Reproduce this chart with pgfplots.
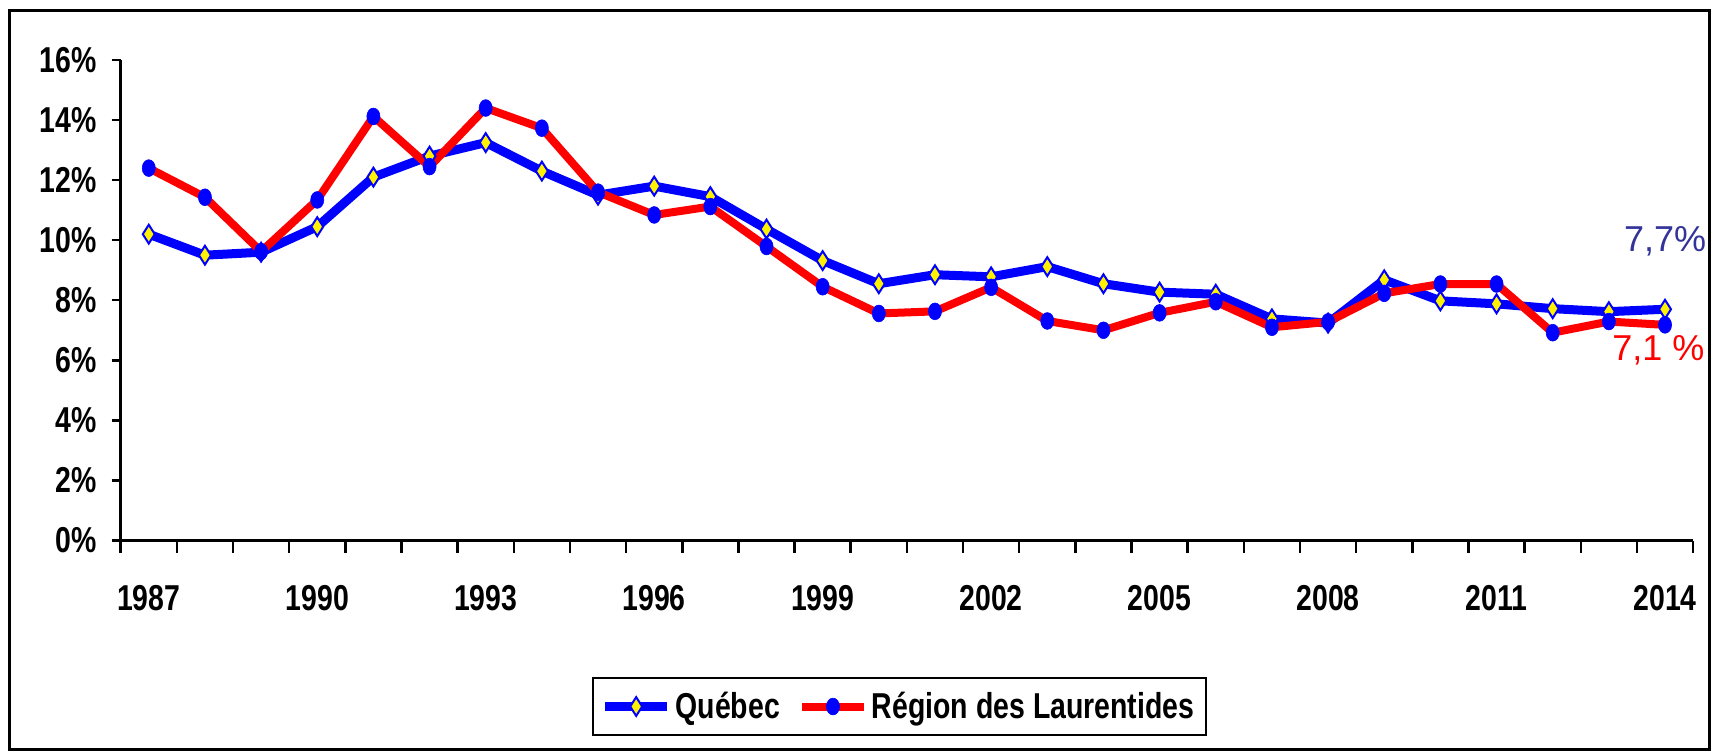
\documentclass[border=0pt]{standalone}
\usepackage{fontspec}
\setmainfont{Liberation Sans}[FakeStretch=0.79]
\newfontfamily\plainfont{Liberation Sans}
\usepackage{pgfplots}
\pgfplotsset{compat=1.18}
\definecolor{qblue}{RGB}{0,0,255}
\definecolor{lred}{RGB}{255,0,0}
\definecolor{annblue}{RGB}{51,51,153}
\begin{document}
\begin{tikzpicture}
\useasboundingbox (0,0) rectangle (859.5bp,376bp);
\begin{axis}[
  at={(60.35bp,105.75bp)}, anchor=south west,
  scale only axis, width=786.2bp, height=240.25bp,
  xmin=1986.5, xmax=2014.5, ymin=0, ymax=16,
  enlargelimits=false,
  axis x line*=bottom, axis y line*=left,
  axis line style={line width=1.25bp, black},
  tick align=outside,
  xtick={1987,1990,1993,1996,1999,2002,2005,2008,2011,2014},
  xticklabels={1987,1990,1993,1996,1999,2002,2005,2008,2011,2014},
  minor xtick={1986.5,1987.5,...,2014.5},
  every major x tick/.append style={draw=none},
  every minor x tick/.append style={line width=1.25bp, black},
  every major y tick/.append style={line width=1.25bp, black},
  minor tick length=6bp,
  major tick length=4.5bp,
  ytick={0,2,4,6,8,10,12,14,16},
  yticklabels={0\%,2\%,4\%,6\%,8\%,10\%,12\%,14\%,16\%},
  ticklabel style={font=\fontsize{18bp}{20bp}\selectfont\bfseries},
  xticklabel style={anchor=north, yshift=-14.5bp},
  yticklabel style={anchor=east, xshift=-4bp},
  clip=false,
  legend columns=2,
  legend style={at={(0.4953,-0.3455)}, anchor=center, draw=black, line width=1bp,
    font=\fontsize{18bp}{20bp}\selectfont\bfseries,
    inner xsep=4bp, inner ysep=5bp,
    /tikz/every even column/.append style={column sep=7bp}},
  legend image code/.code={\draw[mark repeat=2,mark phase=2,#1] plot coordinates {(0bp,0bp) (15.5bp,0bp) (31bp,0bp)};},
]
\addplot[color=qblue, line width=4.5bp, mark=diamond*, mark size=4.7bp,
  mark options={fill=yellow, draw=qblue, line width=1bp, xscale=0.85, solid}] coordinates {
(1987,10.2) (1988,9.5) (1989,9.6) (1990,10.45) (1991,12.1) (1992,12.8) (1993,13.25)
(1994,12.3) (1995,11.5) (1996,11.8) (1997,11.45) (1998,10.37) (1999,9.32) (2000,8.55)
(2001,8.85) (2002,8.78) (2003,9.12) (2004,8.55) (2005,8.27) (2006,8.2) (2007,7.38)
(2008,7.24) (2009,8.68) (2010,7.98) (2011,7.88) (2012,7.72) (2013,7.62) (2014,7.7)
};
\addlegendentry{Québec}
\addplot[color=lred, line width=4bp, mark=*, mark size=4.2bp,
  mark options={fill=qblue, draw=qblue, line width=0.3bp, xscale=0.78, solid}] coordinates {
(1987,12.4) (1988,11.43) (1989,9.62) (1990,11.34) (1991,14.12) (1992,12.45) (1993,14.4)
(1994,13.73) (1995,11.6) (1996,10.84) (1997,11.12) (1998,9.79) (1999,8.45) (2000,7.56)
(2001,7.63) (2002,8.43) (2003,7.31) (2004,7.0) (2005,7.58) (2006,7.95) (2007,7.1)
(2008,7.28) (2009,8.23) (2010,8.54) (2011,8.54) (2012,6.92) (2013,7.29) (2014,7.18)
};
\addlegendentry{Région des Laurentides}
\node[text=annblue, font=\plainfont\fontsize{18bp}{20bp}\selectfont] at (axis cs:2014.0,9.95) {7,7\%};
\node[text=lred, font=\plainfont\fontsize{18bp}{20bp}\selectfont] at (axis cs:2013.88,6.32) {7,1 \%};
\end{axis}
\draw[line width=1.5bp, black] (4.5bp,1.25bp) rectangle (854.5bp,370.5bp);
\end{tikzpicture}
\end{document}
